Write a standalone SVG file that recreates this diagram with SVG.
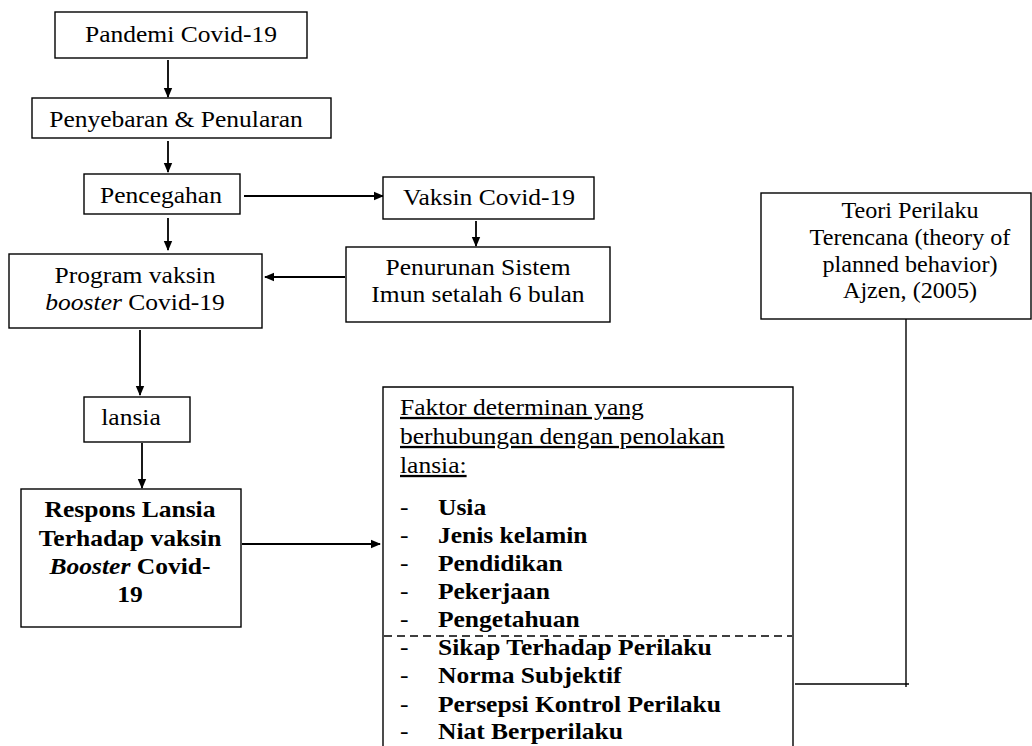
<svg xmlns="http://www.w3.org/2000/svg" width="1032" height="746" viewBox="0 0 1032 746">
<style>
.box{fill:#fff;stroke:#000;stroke-width:1.4}
.t{font-family:"Liberation Serif","Times New Roman",serif;font-size:23px;fill:#000}
.c{text-anchor:middle}
.b{font-weight:bold}
.i{font-style:italic}
.u{text-decoration:underline}
.ln{stroke:#000;stroke-width:1.8;fill:none}
.thin{stroke:#000;stroke-width:1.4;fill:none}
</style>
<defs>
<marker id="ah" markerWidth="10" markerHeight="10" refX="9" refY="5" orient="auto" markerUnits="userSpaceOnUse">
<path d="M0,0.8 L10,5 L0,9.2 Z" fill="#000"/>
</marker>
</defs>
<rect width="1032" height="746" fill="#fff"/>
<g id="connectors">
<line class="ln" x1="168" y1="60" x2="168" y2="97" marker-end="url(#ah)"/>
<line class="ln" x1="168" y1="141" x2="168" y2="172" marker-end="url(#ah)"/>
<line class="ln" x1="168" y1="218" x2="168" y2="250" marker-end="url(#ah)"/>
<line class="ln" x1="244" y1="196" x2="383" y2="196" marker-end="url(#ah)"/>
<line class="ln" x1="476" y1="221" x2="476" y2="246" marker-end="url(#ah)"/>
<line class="ln" x1="345" y1="277" x2="265" y2="277" marker-end="url(#ah)"/>
<line class="ln" x1="140" y1="330" x2="140" y2="395" marker-end="url(#ah)"/>
<line class="ln" x1="142" y1="443" x2="142" y2="488" marker-end="url(#ah)"/>
<line class="ln" x1="242" y1="544" x2="380" y2="544" marker-end="url(#ah)"/>
<line class="thin" x1="906" y1="319" x2="906" y2="687"/>
<line class="thin" x1="795" y1="684" x2="909" y2="684"/>
</g>
<g id="n1"><rect class="box" x="55" y="12" width="252" height="46"/><text class="t c" transform="translate(181,0) scale(1.11,1)" x="0" y="42">Pandemi Covid-19</text></g>
<g id="n2"><rect class="box" x="32" y="98" width="299" height="40"/><text class="t c" transform="translate(176,0) scale(1.11,1)" x="0" y="127">Penyebaran &amp; Penularan</text></g>
<g id="n3"><rect class="box" x="84" y="174" width="156" height="40"/><text class="t c" transform="translate(161,0) scale(1.11,1)" x="0" y="203">Pencegahan</text></g>
<g id="n4"><rect class="box" x="383" y="177" width="211" height="42"/><text class="t c" transform="translate(489,0) scale(1.11,1)" x="0" y="205">Vaksin Covid-19</text></g>
<g id="n5"><rect class="box" x="346" y="247" width="264" height="75"/>
<text class="t c" transform="translate(478,0) scale(1.11,1)" x="0" y="275">Penurunan Sistem</text>
<text class="t c" transform="translate(478,0) scale(1.11,1)" x="0" y="302">Imun setalah 6 bulan</text></g>
<g id="n6"><rect class="box" x="9" y="254" width="253" height="74"/>
<text class="t c" transform="translate(135,0) scale(1.11,1)" x="0" y="283">Program vaksin</text>
<text class="t c" transform="translate(135,0) scale(1.11,1)" x="0" y="310"><tspan class="i">booster</tspan> Covid-19</text></g>
<g id="n7"><rect class="box" x="84" y="397" width="106" height="45"/><text class="t c" transform="translate(131,0) scale(1.11,1)" x="0" y="425">lansia</text></g>
<g id="n8"><rect class="box" x="21" y="489" width="220" height="138"/>
<g transform="translate(130,0) scale(1.11,1)">
<text class="t c b" x="0" y="517">Respons Lansia</text>
<text class="t c b" x="0" y="546">Terhadap vaksin</text>
<text class="t c b" x="0" y="574"><tspan class="i">Booster</tspan> Covid-</text>
<text class="t c b" x="0" y="602">19</text>
</g></g>
<g id="n9">
<path d="M383,746 V387 H793 V746" fill="#fff" stroke="#000" stroke-width="1.4"/>
<line x1="384" y1="636" x2="792" y2="636" stroke="#000" stroke-width="1.4" stroke-dasharray="8,5"/>
<g transform="translate(400,0) scale(1.11,1)">
<text class="t u" x="0" y="415">Faktor determinan yang</text>
<text class="t u" x="0" y="444">berhubungan dengan penolakan</text>
<text class="t u" x="0" y="473">lansia:</text>
<g class="t">
<text x="0" y="515">-</text><text x="0" y="543">-</text><text x="0" y="571">-</text><text x="0" y="599">-</text><text x="0" y="627">-</text><text x="0" y="655">-</text><text x="0" y="683">-</text><text x="0" y="712">-</text><text x="0" y="739">-</text>
</g>
<g class="t b">
<text x="34.2" y="515">Usia</text>
<text x="34.2" y="543">Jenis kelamin</text>
<text x="34.2" y="571">Pendidikan</text>
<text x="34.2" y="599">Pekerjaan</text>
<text x="34.2" y="627">Pengetahuan</text>
<text x="34.2" y="655">Sikap Terhadap Perilaku</text>
<text x="34.2" y="683">Norma Subjektif</text>
<text x="34.2" y="712">Persepsi Kontrol Perilaku</text>
<text x="34.2" y="739">Niat Berperilaku</text>
</g>
</g>
</g>
<g id="n10"><rect class="box" x="761" y="193" width="270" height="126"/>
<g transform="translate(910,0) scale(1.05,1)">
<text class="t c" x="0" y="218">Teori Perilaku</text>
<text class="t c" x="0" y="245">Terencana (theory of</text>
<text class="t c" x="0" y="272">planned behavior)</text>
<text class="t c" x="0" y="298">Ajzen, (2005)</text>
</g></g>
</svg>
